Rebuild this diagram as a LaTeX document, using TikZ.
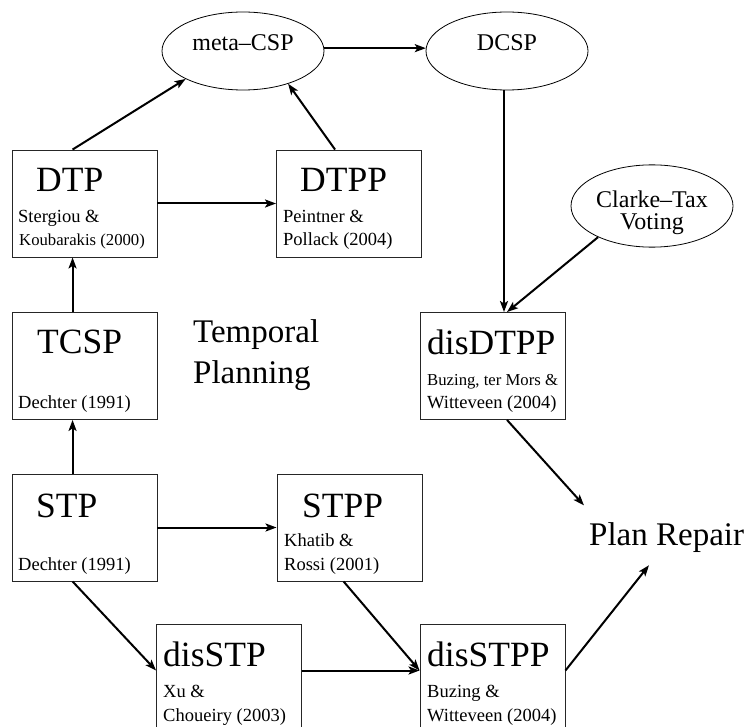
\documentclass[tikz,border=0pt]{standalone}
\usepackage{fontspec}
\setmainfont{Liberation Serif}
\usetikzlibrary{calc, arrows.meta, positioning, shapes.geometric}

\tikzset{
  box/.style={draw=black!85, line width=0.9pt, minimum width=145pt, minimum height=107pt, inner sep=0pt},
  oval/.style={ellipse, draw, line width=0.8pt, minimum width=162pt, minimum height=78pt, inner sep=0pt, font=\fontsize{24}{22}\selectfont},
  title/.style={anchor=base west, inner sep=0pt, font=\fontsize{35.5}{40}\selectfont},
  note/.style={anchor=base west, inner sep=0pt, font=\fontsize{18.5}{20}\selectfont},
  tight/.style={font=\fontsize{16.7}{20}\selectfont},
  big/.style={anchor=base west, inner sep=0pt, font=\fontsize{33}{41}\selectfont, align=left},
  link/.style={-{Stealth[length=11pt, width=8pt, inset=2.5pt]}, line width=2pt},
}

\begin{document}
\begin{tikzpicture}[x=1pt, y=-1pt]
    \useasboundingbox (0,0) rectangle (749,727);

    % Ovals
    \node[oval, text height=16pt, text depth=16pt] (meta) at (243,51) {meta–CSP};
    \node[oval, text height=16pt, text depth=16pt] (dcsp) at (507,51) {DCSP};
    \node[oval, align=center] (clarke) at (652,206) {\rule{0pt}{31pt}Clarke–Tax\\Voting};

    % Boxes
    \node[box] (dtp) at (84.5,203.5) {};
    \node[box] (dtpp) at (349,203.5) {};
    \node[box] (tcsp) at (84.5,366) {};
    \node[box] (disdtpp) at (492.5,366) {};
    \node[box] (stp) at (84.5,527.5) {};
    \node[box] (stpp) at (349.5,527.5) {};
    \node[box] (disstp) at (229,677.5) {};
    \node[box] (disstpp) at (492.5,677.5) {};

    % Box texts
    \node[title] (dtp-t) at (36,192) {DTP};
    \node[note] (dtp-a) at (18,223) {Stergiou \&};
    \node[note, tight] (dtp-b) at (19,246) {Koubarakis (2000)};
    \node[title] (dtpp-t) at (300,192) {DTPP};
    \node[note] (dtpp-a) at (283,223) {Peintner \&};
    \node[note] (dtpp-b) at (283,246) {Pollack (2004)};
    \node[title] (tcsp-t) at (37,353) {TCSP};
    \node[note] (tcsp-a) at (18,408) {Dechter (1991)};
    \node[title] (disdtpp-t) at (427,354) {disDTPP};
    \node[note, tight] (disdtpp-a) at (427,385) {Buzing, ter Mors \&};
    \node[note] (disdtpp-b) at (427,408) {Witteveen (2004)};
    \node[title] (stp-t) at (36,517) {STP};
    \node[note] (stp-a) at (18,570) {Dechter (1991)};
    \node[title] (stpp-t) at (302,517) {STPP};
    \node[note] (stpp-a) at (284,546) {Khatib \&};
    \node[note] (stpp-b) at (284,570) {Rossi (2001)};
    \node[title] (disstp-t) at (163,666) {disSTP};
    \node[note] (disstp-a) at (163,697) {Xu \&};
    \node[note] (disstp-b) at (163,721) {Choueiry (2003)};
    \node[title] (disstpp-t) at (427,666) {disSTPP};
    \node[note] (disstpp-a) at (427,697) {Buzing \&};
    \node[note] (disstpp-b) at (427,721) {Witteveen (2004)};

    % Free labels
    \node[big] (temporal) at (193,383) {Temporal\\Planning};
    \node[big] (plan) at (589,545) {Plan Repair};

    % Left column
    \draw[link] ([xshift=61]stp.north west) -- ([xshift=61]tcsp.south west);
    \draw[link] ([xshift=61]tcsp.north west) -- ([xshift=61]dtp.south west);
    \draw[link] ([xshift=61]dtp.north west) -- (meta.206);
    \draw[link] ([xshift=59]dtpp.north west) -- (meta.-36);
    \draw[link] (dtp.east) -- (dtpp.west);

    % Distributed side
    \draw[link] (meta.2) -- (dcsp.178);
    \draw[link] ([xshift=-3]dcsp.south) -- ([xshift=11.5]disdtpp.north);
    \draw[link] (clarke.210) -- ([xshift=14.5]disdtpp.north);
    \draw[link] ([xshift=14.5]disdtpp.south) -- ([xshift=-5,yshift=16.5]plan.north west);

    % Bottom rows
    \draw[link] (stp.east) -- (stpp.west);
    \draw[link] ([xshift=61]stp.south west) -- ([yshift=7]disstp.west);
    \draw[link] ([xshift=67]stpp.south west) -- ([yshift=7]disstpp.west);
    \draw[link] ([yshift=7]disstp.east) -- ([yshift=7]disstpp.west);
    \draw[link] ([yshift=7]disstpp.east) -- ([xshift=60,yshift=-13]plan.south west);
\end{tikzpicture}
\end{document}
